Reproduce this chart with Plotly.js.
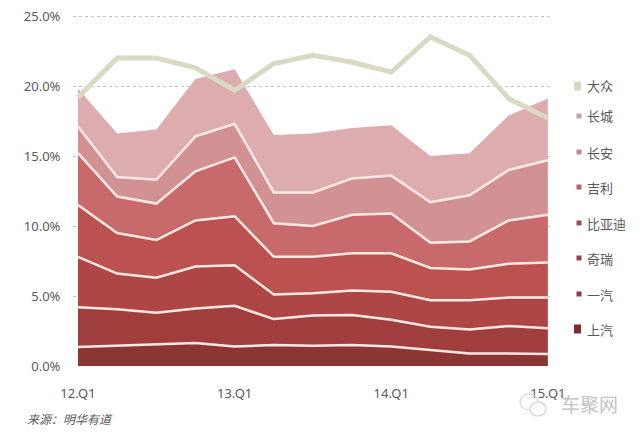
<!DOCTYPE html>
<html>
<head>
<meta charset="utf-8">
<script src="https://cdn.plot.ly/plotly-3.0.1.min.js"></script>
<style>
html,body{margin:0;padding:0;background:#fff;}
#chart{width:640px;height:436px;}
</style>
</head>
<body>
<div id="chart"></div>
<script>
// Quarters
const quarters = ["12.Q1","12.Q2","12.Q3","12.Q4","13.Q1","13.Q2","13.Q3","13.Q4","14.Q1","14.Q2","14.Q3","14.Q4","15.Q1"];
const tickLabels = ["12.Q1","13.Q1","14.Q1","15.Q1"];
const yTicks = [0,5,10,15,20,25];

// Market shares (%) — stacked series, bottom to top
const shangqi = [1.35,1.45,1.5,1.65,1.4,1.5,1.45,1.5,1.4,1.15,0.9,0.9,0.85];
const yiqi    = [2.85,2.6,2.3,2.45,2.9,1.85,2.15,2.15,1.9,1.65,1.7,1.95,1.85];
const qirui   = [3.6,2.55,2.5,3.0,2.9,1.75,1.6,1.75,2.0,1.9,2.1,2.05,2.2];
const biyadi  = [3.7,2.9,2.7,3.3,3.5,2.7,2.6,2.65,2.75,2.3,2.2,2.4,2.5];
const jili    = [3.7,2.6,2.6,3.5,4.2,2.4,2.2,2.75,2.85,1.8,2.0,3.1,3.4];
const changan = [1.9,1.4,1.7,2.5,2.4,2.2,2.4,2.6,2.7,2.9,3.3,3.6,3.9];
const changcheng = [2.7,3.1,3.6,4.1,3.9,4.1,4.2,3.6,3.6,3.3,3.0,3.9,4.4];
// Line series
const dazhong = [19.2,22.0,22.0,21.3,19.7,21.6,22.2,21.7,21.0,23.5,22.2,19.1,17.7];

const seriesNames = ["上汽","一汽","奇瑞","比亚迪","吉利","长安","长城"];
const seriesData = [shangqi,yiqi,qirui,biyadi,jili,changan,changcheng];
const fillColors = ["#8C3535","#A03E3E","#AE4645","#BC5250","#C86A6B","#D29294","#DCACAF"];
const legendColors = ["#7E2C32","#8C3A44","#904348","#9E4D5A","#B06272","#BE8A92","#C9A1A7"];
const sepColor = "#FCE9E3";

const traces = seriesData.map((vals,i)=>({
  type:"scatter", mode:"lines", x:quarters, y:vals, name:seriesNames[i],
  stackgroup:"share", fillcolor:fillColors[i],
  line:{color: i===seriesData.length-1 ? fillColors[i] : sepColor, width: i===seriesData.length-1 ? 0 : 2.5, shape:"linear"},
  hoverinfo:"skip", showlegend:false
}));
traces.push({
  type:"scatter", mode:"lines", x:quarters, y:dazhong, name:"大众",
  line:{color:"#D9D9C5", width:5}, hoverinfo:"skip", showlegend:false
});

// Pixel -> paper helpers (plot area: x 73..551, y 12..366)
const L=73, R=551, T=12, B=366;
const PX = p => (p-L)/(R-L);
const PY = p => (B-p)/(B-T);

const legendNames = ["大众","长城","长安","吉利","比亚迪","奇瑞","一汽","上汽"];
const legendCols = ["#D6D9C6"].concat(legendColors.slice().reverse());
const legendY = [86,116,152,187,223,258,294,329];
const annotations = [];
const shapes = [];
legendNames.forEach((n,i)=>{
  const big = (i===0 || i===legendNames.length-1);
  const w = big ? 7 : 5, h = big ? 9 : 5;
  const cx = big ? 577.5 : 579;
  shapes.push({type:"rect", xref:"paper", yref:"paper",
    x0:PX(cx-w/2), x1:PX(cx+w/2), y0:PY(legendY[i]+h/2), y1:PY(legendY[i]-h/2),
    fillcolor:legendCols[i], line:{width:0}});
  annotations.push({xref:"paper", yref:"paper", x:PX(585), y:PY(legendY[i]),
    xanchor:"left", yanchor:"middle", showarrow:false, text:n,
    font:{family:"Noto Sans CJK SC, sans-serif", size:13, color:"#595959"}});
});
annotations.push({xref:"paper", yref:"paper", x:PX(25), y:PY(419), xanchor:"left", yanchor:"middle",
  showarrow:false, text:"<i>来源：明华有道</i>",
  font:{family:"Noto Sans CJK SC, sans-serif", size:12, color:"#595959"}});
annotations.push({xref:"paper", yref:"paper", x:PX(589), y:PY(403), xanchor:"center", yanchor:"middle",
  showarrow:false, text:"车聚网",
  font:{family:"Noto Sans CJK SC, sans-serif", size:19, color:"#C4C4C4"}});
// watermark icon circles
shapes.push({type:"circle", xref:"paper", yref:"paper", x0:PX(520), x1:PX(538), y0:PY(410), y1:PY(394),
  line:{color:"#D2D2D2", width:1.2}, fillcolor:"rgba(0,0,0,0)"});
shapes.push({type:"circle", xref:"paper", yref:"paper", x0:PX(530), x1:PX(546), y0:PY(416), y1:PY(402),
  line:{color:"#D2D2D2", width:1.2}, fillcolor:"rgba(255,255,255,0.8)"});

const layout = {
  width:640, height:436,
  margin:{l:L, r:640-R, t:T, b:436-B, pad:0},
  paper_bgcolor:"#ffffff", plot_bgcolor:"#ffffff",
  showlegend:false,
  xaxis:{type:"category", range:[-0.128,12.08], tickmode:"array", tickvals:tickLabels, ticktext:tickLabels,
    showgrid:false, zeroline:false, showline:false, ticks:"outside", ticklen:15, tickcolor:"rgba(0,0,0,0)",
    tickfont:{family:"Noto Sans, sans-serif", size:13, color:"#595959"}, fixedrange:true},
  yaxis:{range:[0,25.286], tickmode:"array", tickvals:yTicks, ticktext:yTicks.map(v=>v.toFixed(1)+"%"),
    showgrid:true, gridcolor:"#C4C4C4", griddash:"dot", gridwidth:1,
    zeroline:false, showline:false, ticks:"outside", ticklen:9, tickcolor:"rgba(0,0,0,0)",
    tickfont:{family:"Noto Sans, sans-serif", size:13, color:"#595959"}, fixedrange:true},
  annotations:annotations, shapes:shapes
};

Plotly.newPlot("chart", traces, layout, {staticPlot:true, displayModeBar:false});
</script>
</body>
</html>
